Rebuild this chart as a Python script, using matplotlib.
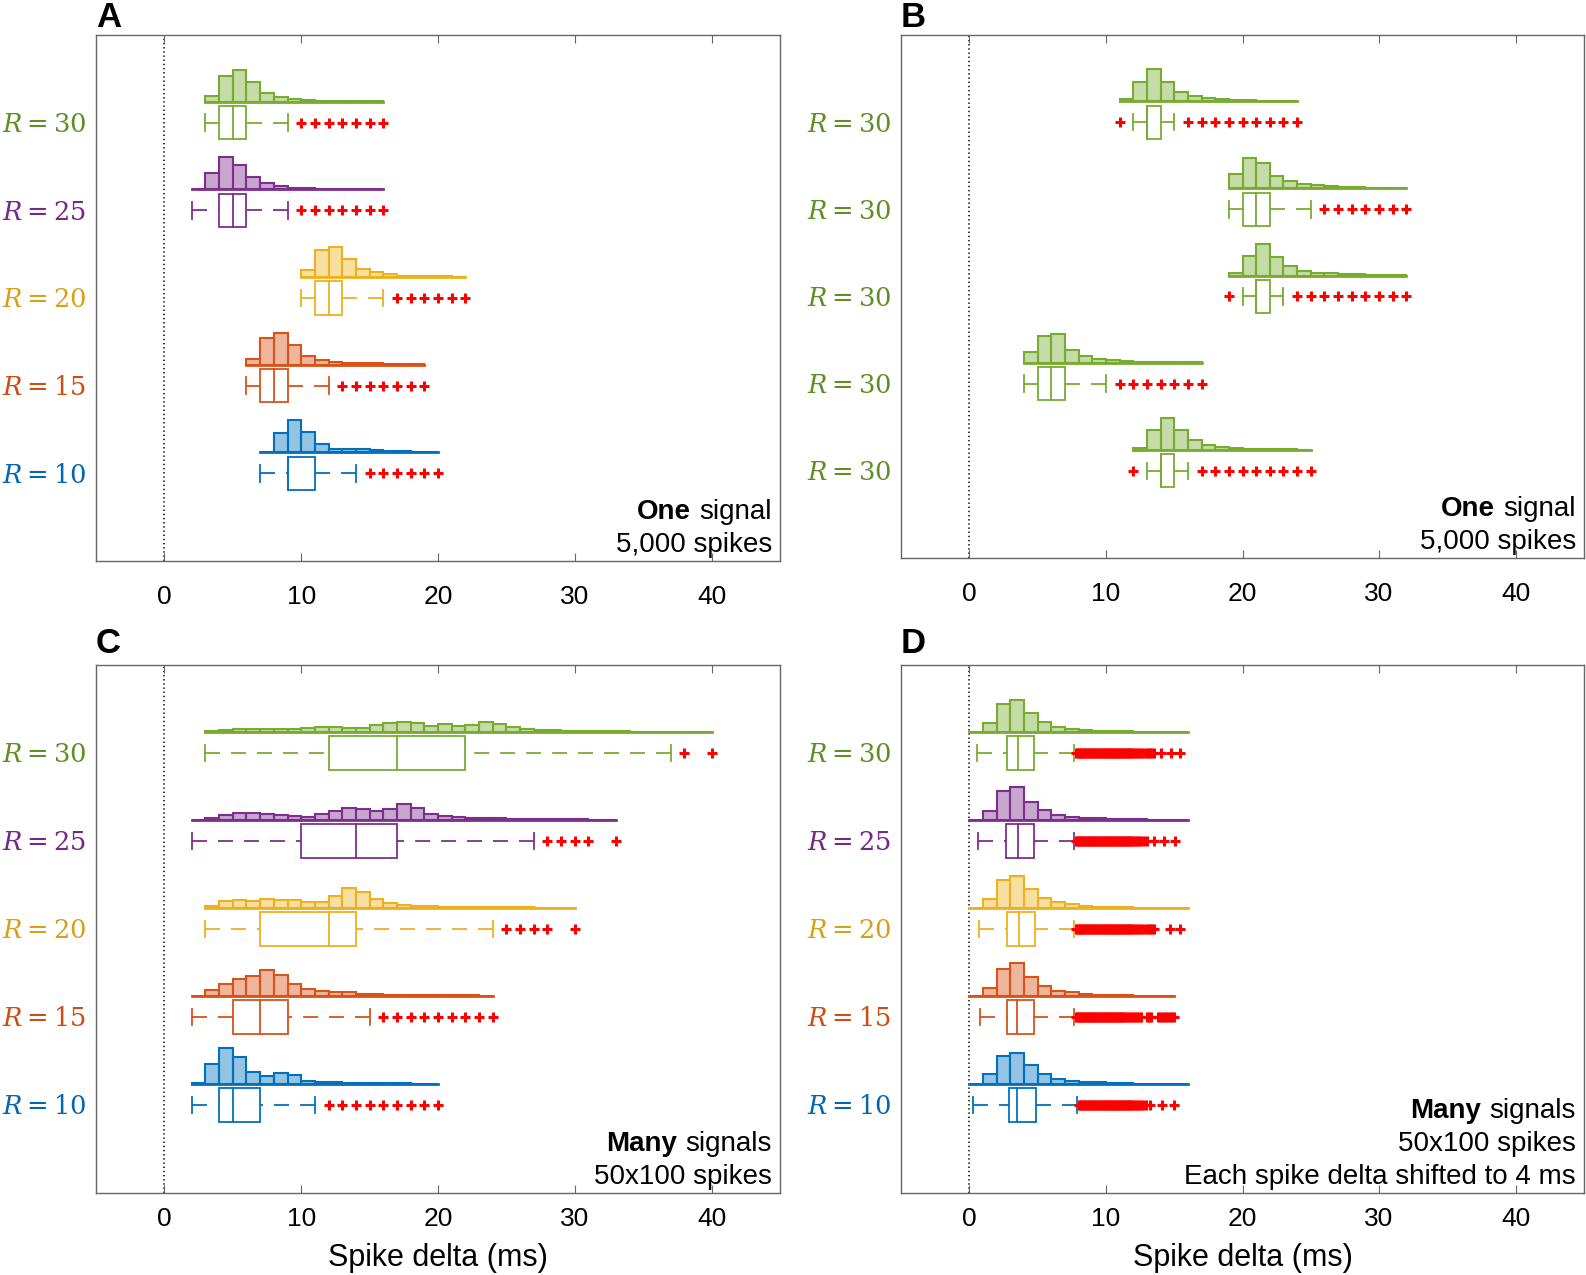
import numpy as np
import matplotlib
matplotlib.use('Agg')
from matplotlib import pyplot as plt
from matplotlib.colors import to_rgba
from matplotlib.patches import Rectangle
from matplotlib.offsetbox import TextArea, HPacker, VPacker, AnchoredOffsetbox

plt.rcParams['font.family'] = ['Liberation Sans', 'DejaVu Sans']
plt.rcParams['mathtext.fontset'] = 'dejavuserif'
plt.rcParams['lines.scale_dashes'] = False

# MATLAB default colours, rows ordered bottom (R = 10) to top (R = 30)
blue, orange, yellow, purple, green = '#0072BD', '#D95319', '#EDB120', '#7E2F8E', '#77AC30'
row_colors = [blue, orange, yellow, purple, green]
label_colors = ['#0067B0', '#CC4E14', '#D7A01A', '#73288A', '#5E8F25']
r_values = [10, 15, 20, 25, 30]

# ---- Panel A : one signal, 5,000 spikes
A_start = [7, 6, 10, 2, 3]
A_hist = [
    [0.3, 19.3, 32, 19.7, 8.3, 3.7, 3, 3, 2, 1.3, 1.3, 0.7, 0.3],
    [5.3, 26.3, 31.7, 19, 8.7, 4.7, 2.7, 1.7, 1.3, 1.3, 0.5, 0.3, 0.3],
    [6.7, 26.7, 30, 18.3, 8.3, 5, 2.7, 1.3, 1, 0.7, 0.5, 0.3],
    [0.3, 15.7, 31.7, 24.3, 12.3, 6.3, 3, 1.7, 1, 0.7, 0.7, 0.5, 0.3, 0.3],
    [5.7, 25.7, 31, 19, 9, 4.3, 3, 1.3, 1, 0.7, 0.5, 0.3, 0.3],
]
# whisker low, q1, median, q3, whisker high
A_box = [(7, 9, 9, 11, 14), (6, 7, 8, 9, 12), (10, 11, 12, 13, 16), (2, 4, 5, 6, 9), (3, 4, 5, 6, 9)]
A_out = [
    [15, 16, 17, 18, 19, 20],
    [13, 14, 15, 16, 17, 18, 19],
    [17, 18, 19, 20, 21, 22],
    [10, 11, 12, 13, 14, 15, 16],
    [10, 11, 12, 13, 14, 15, 16],
]

# ---- Panel B : five runs with R = 30
B_start = [12, 4, 19, 19, 11]
B_hist = [
    [2.3, 19.7, 32.3, 19.7, 9.7, 5, 3.3, 2.3, 1.3, 1, 0.7, 0.5, 0.3],
    [10.3, 27, 28.3, 13, 7, 3.7, 2.3, 1.3, 1, 0.7, 0.5, 0.3, 0.3],
    [2.3, 20, 31.7, 19, 9.3, 4.3, 3, 2.3, 1.7, 1.3, 0.7, 0.5, 0.3],
    [14, 30, 25.7, 12.7, 7.3, 4.3, 3, 2, 1.3, 1, 0.7, 0.5, 0.3],
    [2.7, 19.7, 32.3, 19.7, 9.7, 5.3, 3.3, 2.3, 1.7, 1, 0.7, 0.5, 0.3],
]
B_box = [(13, 14, 14, 15, 16), (4, 5, 6, 7, 10), (20, 21, 21, 22, 23), (19, 20, 21, 22, 25), (12, 13, 13, 14, 15)]
B_out = [
    [12, 17, 18, 19, 20, 21, 22, 23, 24, 25],
    [11, 12, 13, 14, 15, 16, 17],
    [19, 24, 25, 26, 27, 28, 29, 30, 31, 32],
    [26, 27, 28, 29, 30, 31, 32],
    [11, 16, 17, 18, 19, 20, 21, 22, 23, 24],
]

# ---- Panel C : many signals, 50x100 spikes
C_start = [2, 2, 3, 2, 3]
C_hist = [
    [1.1, 20, 35.2, 26.7, 11.9, 7.4, 10.4, 8.5, 3, 1.9, 1.5, 1.1, 0.7, 0.4, 0.4, 0.4, 0.3, 0.3],
    [0.2, 5.9, 12.2, 17, 20, 25.6, 21.1, 12.2, 6.7, 5.2, 3.7, 3.7, 1.9, 1.5, 1.1, 0.7, 0.7, 0.7,
     0.4, 0.4, 0.4, 0.3],
    [2.2, 7, 7.4, 7, 8.5, 7.8, 7.8, 5.6, 5.6, 11.9, 19.3, 15.6, 8.9, 4.4, 3, 2.2, 2.2, 1.1, 0.7,
     0.7, 0.4, 0.4, 0.4, 0.4, 0.3, 0.3, 0.3],
    [0.2, 1.5, 4.4, 6.7, 6.7, 5.9, 4.8, 3.7, 3.3, 5.9, 8.9, 11.9, 10.7, 8.5, 10.4, 15.9, 11.9, 5.9,
     4.1, 2.6, 2.2, 1.9, 1.5, 0.7, 0.7, 0.4, 0.4, 0.4, 0.4, 0.3, 0.3],
    [0.7, 2.2, 3, 3, 3.3, 2.6, 3, 3.7, 5.2, 4.8, 3.7, 3.7, 7, 8.5, 9.6, 8.5, 6.3, 7.4, 5.6, 7, 9.6,
     8.1, 5.2, 3, 1.5, 1.5, 1.1, 0.7, 0.5, 0.4, 0.4, 0.3, 0.3, 0.3, 0.3, 0.2, 0.2],
]
C_box = [(2, 4, 5, 7, 11), (2, 5, 7, 9, 15), (3, 7, 12, 14, 24), (2, 10, 14, 17, 27), (3, 12, 17, 22, 37)]
C_out = [
    [12, 13, 14, 15, 16, 17, 18, 19, 20],
    [16, 17, 18, 19, 20, 21, 22, 23, 24],
    [25, 26, 27, 28, 30],
    [28, 29, 30, 31, 33],
    [38, 40],
]

# ---- Panel D : many signals, each spike delta shifted to 4 ms
D_start = [0, 0, 0, 0, 0]
D_hist = [
    [0, 10, 27.3, 30.7, 18.3, 9.7, 5, 3.3, 2.3, 1.7, 1, 0.7, 0.3, 0.3, 0.2, 0.2],
    [0, 7.3, 27, 32.3, 19, 9.3, 5.3, 3.7, 2.3, 1.3, 1, 0.7, 0.3, 0.2, 0.2],
    [0, 9, 28, 31.3, 18.7, 9.7, 5.7, 4, 2.3, 1.3, 1, 0.7, 0.3, 0.3, 0.2, 0.2],
    [0, 8.3, 28.7, 32.3, 18, 9.7, 5.3, 3.3, 2.3, 1.7, 1.3, 1, 0.7, 0.3, 0.3, 0.3],
    [0, 8.3, 27.3, 31.3, 18.3, 9.7, 5, 2.7, 1.7, 1, 0.7, 0.7, 0.3, 0.3, 0.2, 0.2],
]
D_box = [(0.3, 2.9, 3.5, 4.9, 7.9), (0.8, 2.75, 3.5, 4.75, 7.7), (0.7, 2.75, 3.65, 4.8, 7.7),
         (0.65, 2.7, 3.6, 4.75, 7.65), (0.6, 2.75, 3.6, 4.75, 7.7)]
D_out = [
    [8.0, 8.1, 8.2, 8.3, 8.4, 8.5, 8.6, 8.7, 8.8, 8.9, 9.0, 9.1, 9.2, 9.3, 9.4, 9.5, 9.6, 9.7,
     9.8, 9.9, 10.0, 10.1, 10.2, 10.3, 10.4, 10.5, 10.6, 10.7, 10.8, 10.9, 11.0, 11.1, 11.2, 11.3,
     11.4, 11.5, 11.6, 11.7, 11.8, 11.9, 12.0, 12.15, 12.3, 12.45, 12.6, 12.75, 12.9, 13.2,
     14.1, 15.0],
    [7.8, 7.9, 8.0, 8.1, 8.2, 8.3, 8.4, 8.5, 8.6, 8.7, 8.8, 8.9, 9.0, 9.1, 9.2, 9.3, 9.4, 9.5,
     9.6, 9.7, 9.8, 9.9, 10.0, 10.1, 10.2, 10.3, 10.4, 10.5, 10.6, 10.7, 10.8, 10.9, 11.0, 11.1,
     11.2, 11.3, 11.4, 11.55, 11.7, 11.85, 12.0, 12.15, 12.3, 12.45, 12.6, 13.0, 13.15, 13.3,
     13.8, 13.95, 14.1, 14.25, 14.4, 14.55, 14.7, 14.85, 15.0],
    [7.8, 7.9, 8.0, 8.1, 8.2, 8.3, 8.4, 8.5, 8.6, 8.7, 8.8, 8.9, 9.0, 9.1, 9.2, 9.3, 9.4, 9.5,
     9.6, 9.7, 9.8, 9.9, 10.0, 10.1, 10.2, 10.3, 10.4, 10.5, 10.6, 10.7, 10.8, 10.9, 11.0, 11.1,
     11.2, 11.3, 11.4, 11.5, 11.6, 11.7, 11.8, 11.9, 12.0, 12.15, 12.3, 12.45, 12.6, 12.75, 12.9,
     13.05, 13.2, 13.35, 13.5, 14.7, 15.4],
    [7.8, 7.9, 8.0, 8.1, 8.2, 8.3, 8.4, 8.5, 8.6, 8.7, 8.8, 8.9, 9.0, 9.1, 9.2, 9.3, 9.4, 9.5,
     9.6, 9.7, 9.8, 9.9, 10.0, 10.1, 10.2, 10.3, 10.4, 10.5, 10.6, 10.7, 10.8, 10.9, 11.0, 11.1,
     11.2, 11.3, 11.4, 11.5, 11.6, 11.7, 11.8, 11.9, 12.0, 12.15, 12.3, 12.45, 12.6, 12.8, 13.0,
     13.5, 14.25, 15.05],
    [7.8, 7.9, 8.0, 8.1, 8.2, 8.3, 8.4, 8.5, 8.6, 8.7, 8.8, 8.9, 9.0, 9.1, 9.2, 9.3, 9.4, 9.5,
     9.6, 9.7, 9.8, 9.9, 10.0, 10.1, 10.2, 10.3, 10.4, 10.5, 10.6, 10.7, 10.8, 10.9, 11.0, 11.1,
     11.2, 11.3, 11.4, 11.5, 11.6, 11.7, 11.8, 11.9, 12.0, 12.15, 12.3, 12.45, 12.6, 12.75, 12.9,
     13.05, 13.2, 13.35, 13.5, 14.0, 14.8, 15.4],
]

x_ticks = [0, 10, 20, 30, 40]

# Geometry of one row (in y data units, one row = 1)
HIST_SCALE = 1 / 87.0   # histogram height per % of spikes
HIST_OFFSET = 0.24      # histogram baseline above box centre
BOX_HALF = 0.19
CAP_HALF = 0.095
DASH = (0, (10.8, 7.9))


# Draw histogram + boxplot for one row
def draw_row(ax, y, color, start, heights, stats, outliers):
    n = len(heights)
    edges = start + np.arange(n)
    base = y + HIST_OFFSET
    ax.bar(edges, np.array(heights) * HIST_SCALE, width=1, bottom=base, align='edge',
           facecolor=to_rgba(color, 0.42), edgecolor=color, linewidth=1.5, zorder=2)
    ax.plot([start, start + n], [base, base], color=color, lw=2.0, zorder=3)

    lo, q1, med, q3, hi = stats
    ax.add_patch(Rectangle((q1, y - BOX_HALF), q3 - q1, 2 * BOX_HALF, fill=False,
                           edgecolor=color, lw=1.3, zorder=3))
    ax.plot([med, med], [y - BOX_HALF, y + BOX_HALF], color=color, lw=1.3, zorder=3)
    ax.plot([lo, q1], [y, y], color=color, lw=1.3, ls=DASH, zorder=3)
    ax.plot([hi, q3], [y, y], color=color, lw=1.3, ls=DASH, zorder=3)
    for c in (lo, hi):
        ax.plot([c, c], [y - CAP_HALF, y + CAP_HALF], color=color, lw=1.3, zorder=3)
    ax.plot(outliers, [y] * len(outliers), '+', color='red', ms=6.5, mew=2.2, zorder=4)


def setup_axes(ax, labels, lab_colors, tick_pad):
    ax.set_xlim(-5, 45)
    ax.set_ylim(0, 6)
    ax.axvline(0, color='black', lw=1.1, ls=(0, (1, 2)), zorder=1)
    ax.set_xticks(x_ticks)
    ax.tick_params(axis='x', direction='in', top=True, length=6, labelsize=19,
                   color='#666666', pad=tick_pad)
    ax.set_yticks([1, 2, 3, 4, 5])
    ax.set_yticklabels(labels, fontsize=18.5)
    ax.tick_params(axis='y', length=0, pad=7)
    for t, c in zip(ax.get_yticklabels(), lab_colors):
        t.set_color(c)
    for s in ax.spines.values():
        s.set_color('#666666')
        s.set_linewidth(1.0)


def note(ax, bold_word, rest, lines):
    first = HPacker(children=[TextArea(bold_word, textprops=dict(fontsize=20, fontweight='bold')),
                              TextArea(rest, textprops=dict(fontsize=20))],
                    align='baseline', pad=0, sep=6)
    children = [first] + [TextArea(l, textprops=dict(fontsize=20)) for l in lines]
    box = VPacker(children=children, align='right', pad=0, sep=5)
    w = ax.get_position().width * 1586
    h = ax.get_position().height * 1275
    anchored = AnchoredOffsetbox(loc='lower right', child=box, frameon=False, pad=0.0,
                                 borderpad=0.0, bbox_to_anchor=(1 - 8 / w, 3 / h),
                                 bbox_transform=ax.transAxes)
    ax.add_artist(anchored)


def plot_panel(ax, starts, hists, boxes, outs, colors, labels, lab_colors, tick_pad):
    for i in range(5):
        draw_row(ax, i + 1, colors[i], starts[i], hists[i], boxes[i], outs[i])
    setup_axes(ax, labels, lab_colors, tick_pad)


fig = plt.figure(figsize=(15.86, 12.75), dpi=100)
W, H = 1586, 1275
axA = fig.add_axes([96 / W, 1 - 561 / H, 684 / W, 526 / H])
axB = fig.add_axes([901 / W, 1 - 558 / H, 683 / W, 523 / H])
axC = fig.add_axes([96 / W, 1 - 1193 / H, 684 / W, 528 / H])
axD = fig.add_axes([901 / W, 1 - 1193 / H, 683 / W, 528 / H])

r_labels = [r'$R = %d$' % r for r in r_values]
plot_panel(axA, A_start, A_hist, A_box, A_out, row_colors, r_labels, label_colors, 17)
plot_panel(axB, B_start, B_hist, B_box, B_out, [green] * 5, [r'$R = 30$'] * 5,
           [label_colors[4]] * 5, 17)
plot_panel(axC, C_start, C_hist, C_box, C_out, row_colors, r_labels, label_colors, 10)
plot_panel(axD, D_start, D_hist, D_box, D_out, row_colors, r_labels, label_colors, 10)

note(axA, 'One', 'signal', ['5,000 spikes'])
note(axB, 'One', 'signal', ['5,000 spikes'])
note(axC, 'Many', 'signals', ['50x100 spikes'])
note(axD, 'Many', 'signals', ['50x100 spikes', 'Each spike delta shifted to 4 ms'])

axC.set_xlabel('Spike delta (ms)', fontsize=22, labelpad=9)
axD.set_xlabel('Spike delta (ms)', fontsize=22, labelpad=9)

for ax, letter in zip([axA, axB, axC, axD], 'ABCD'):
    pos = ax.get_position()
    top = 1 - 1 / H if letter in 'AB' else pos.y1 + 38 / H
    fig.text(pos.x0, top, letter, fontsize=25, fontweight='bold', ha='left', va='top')

fig.savefig('out.png', dpi=100)
